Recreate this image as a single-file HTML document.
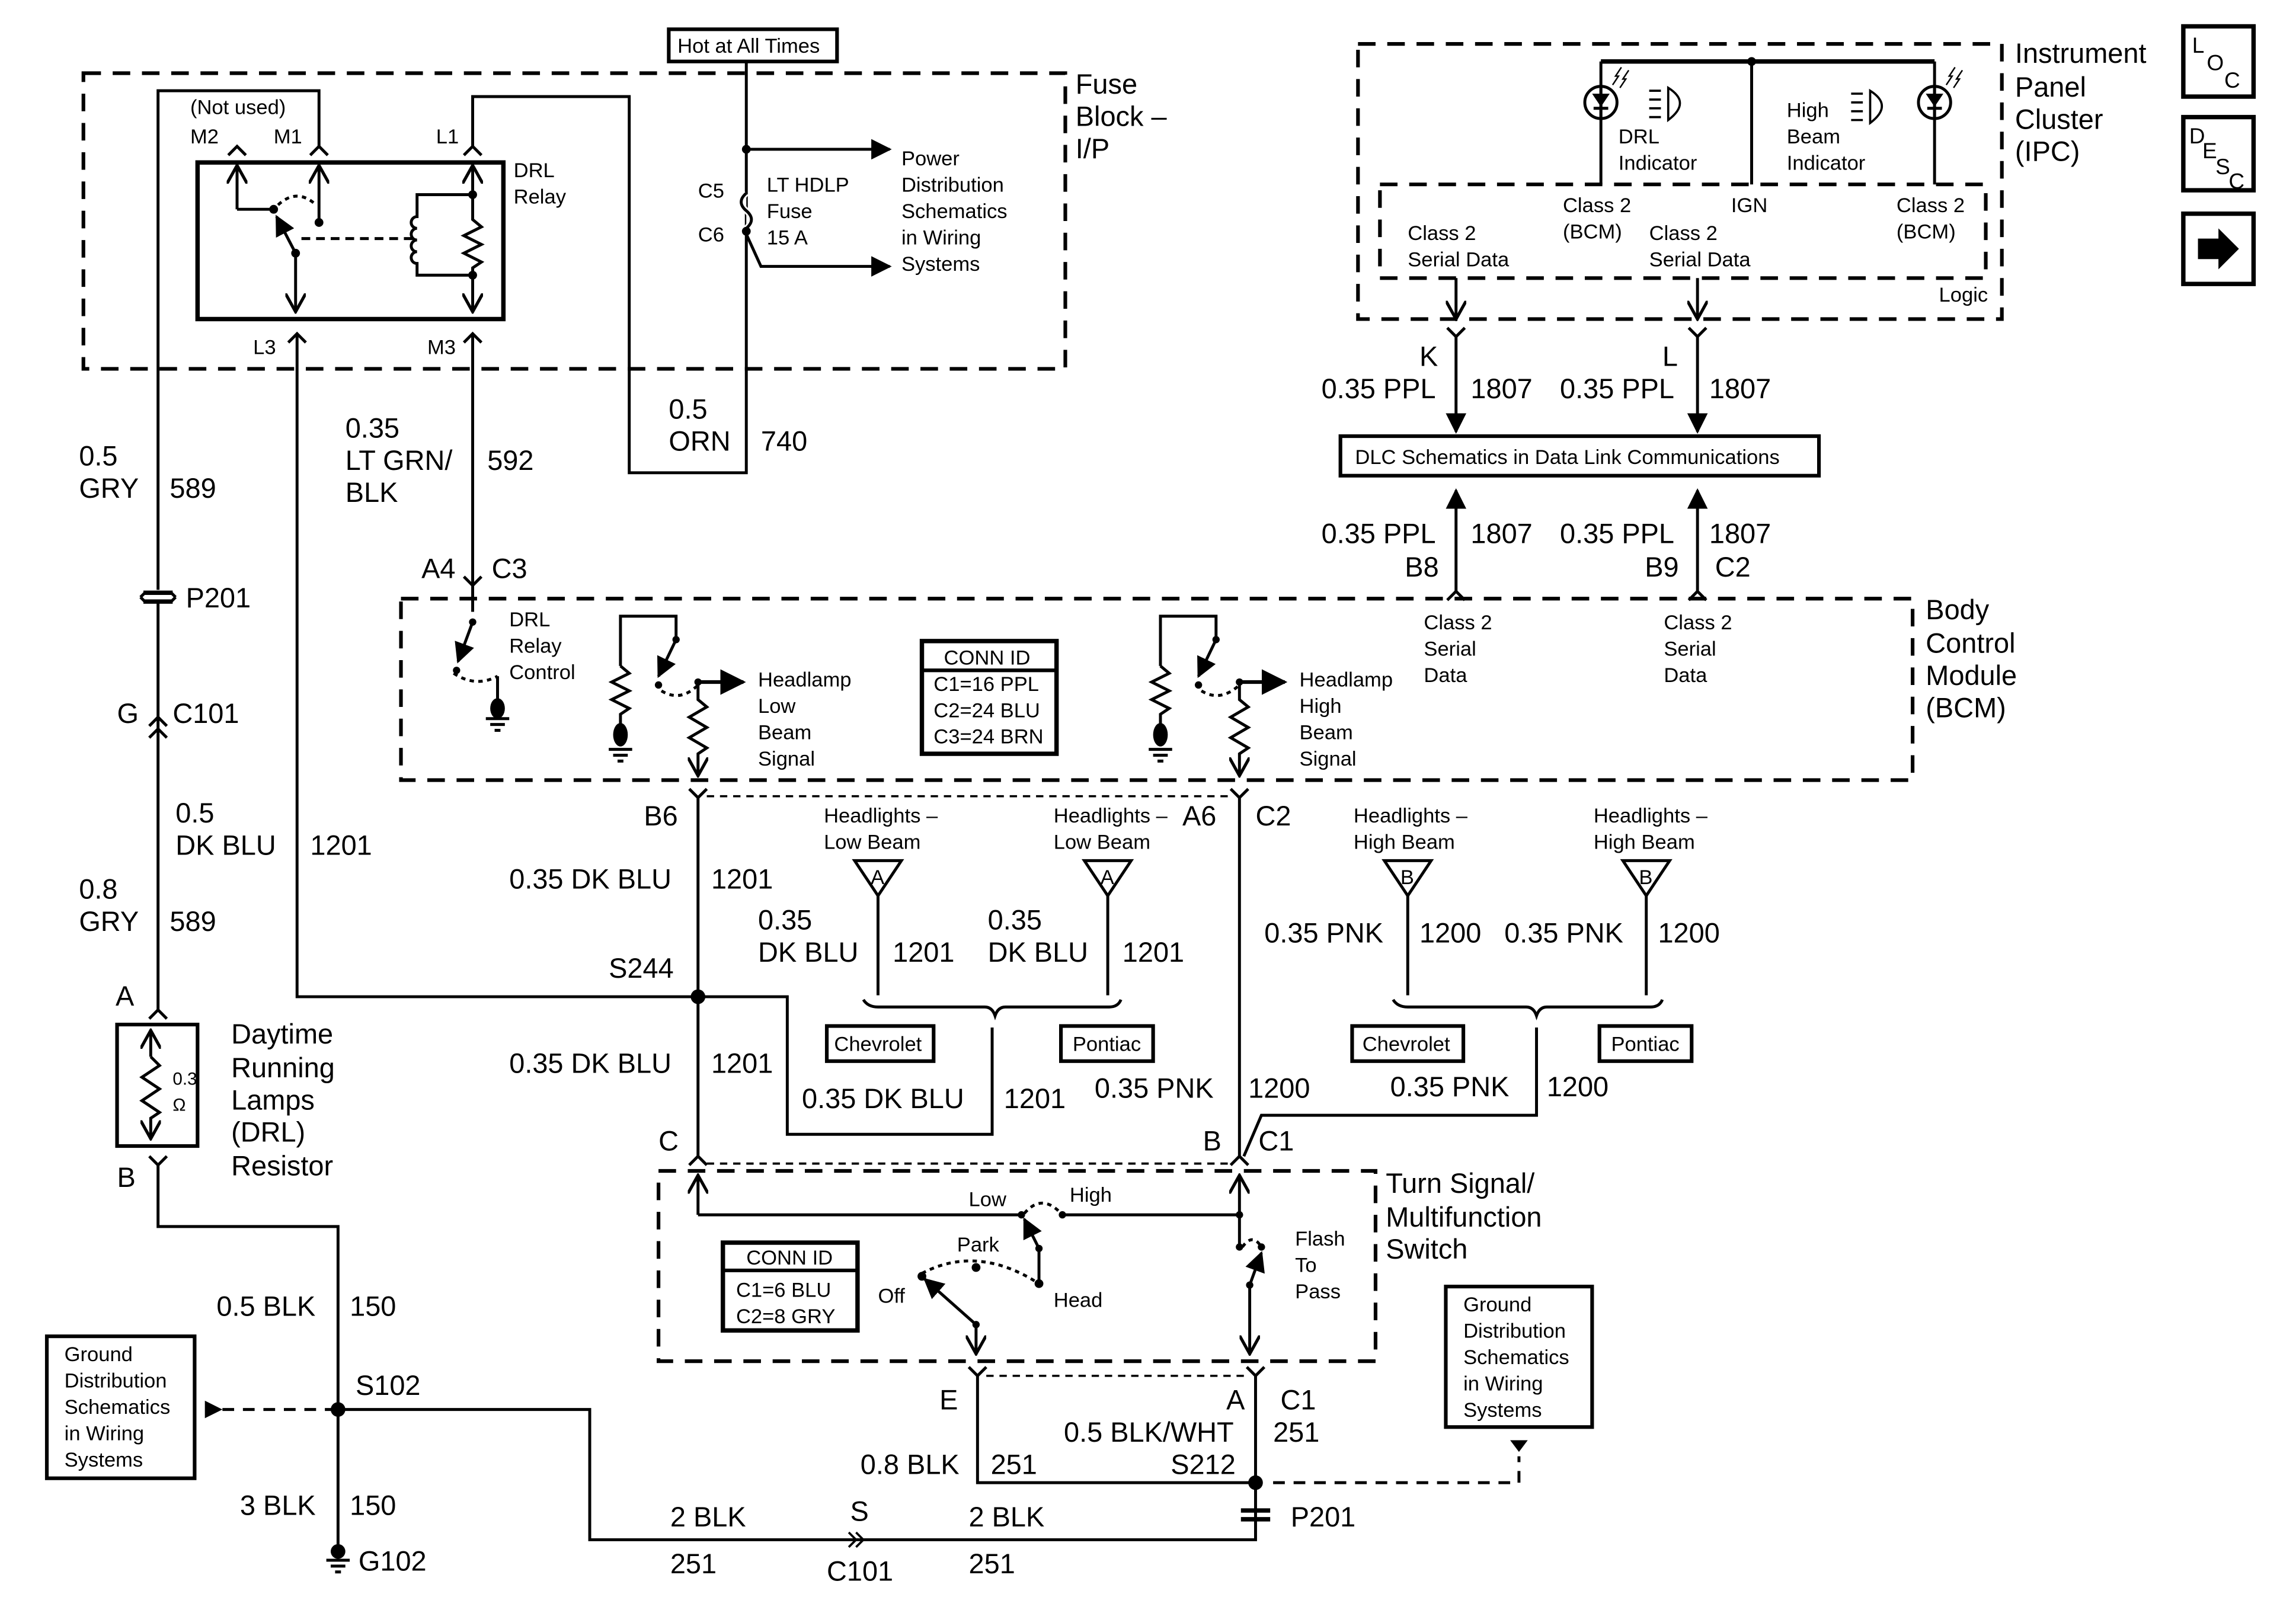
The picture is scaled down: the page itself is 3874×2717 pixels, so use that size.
<!DOCTYPE html>
<html><head><meta charset="utf-8"><style>
html,body{margin:0;padding:0;background:#fff;}
svg{display:block;}
text{font-family:"Liberation Sans",sans-serif;fill:#000;}
.b{font-size:19px;}
.s{font-size:14px;font-family:"Liberation Sans Narrow","Liberation Sans",sans-serif;}
.m{font-size:15px;}
</style></head><body>
<svg width="3874" height="2717" viewBox="0 0 1569 1100" preserveAspectRatio="none" xmlns="http://www.w3.org/2000/svg">
<defs>
<marker id="ah" viewBox="0 0 10 10" refX="9" refY="5" markerWidth="7" markerHeight="7" orient="auto-start-reverse"><path d="M0,0 L10,5 L0,10 z" fill="#000"/></marker>
<marker id="oa" viewBox="0 0 10 10" refX="9" refY="5" markerWidth="7" markerHeight="7" orient="auto-start-reverse"><path d="M0,0 L9,5 L0,10" fill="none" stroke="#000" stroke-width="1.5"/></marker>
</defs>
<rect width="1569" height="1100" fill="#fff"/>
<g fill="none" stroke="#000" stroke-width="2">
<g stroke-dasharray="12,8" stroke-width="2.5">
<rect x="57" y="50" width="671" height="202"/>
<rect x="274" y="409" width="1033" height="124"/>
<rect x="450" y="800" width="490" height="130"/>
<rect x="928" y="30" width="440" height="188"/>
<rect x="943" y="126" width="414" height="64"/>
</g>
<rect x="457" y="20" width="115" height="22" stroke-width="2.5"/>
<rect x="135" y="111" width="209" height="107" stroke-width="3"/>
<path d="M108,403 V62 H218 V100"/>
<path d="M212,106 L218,100 L224,106 M156,106 L162,100 L168,106 M317,106 L323,100 L329,106"/>
<path d="M162,143 V113" marker-end="url(#oa)"/>
<path d="M162,143 H187"/>
<path d="M218,150 V113" marker-end="url(#oa)"/>
<path d="M190,140 Q203,128 216,140" stroke-dasharray="3,3"/>
<path d="M202,173 L189,148" marker-end="url(#ah)"/>
<path d="M202,173 V213" marker-end="url(#oa)"/>
<path d="M206,163 H282" stroke-dasharray="6,4"/>
<path d="M323,130 V113" marker-end="url(#oa)"/>
<path d="M323,190 V213" marker-end="url(#oa)"/>
<path d="M323,130 V150 L329,155 L317,161 L329,167 L317,173 L329,179 L323,183 V190"/>
<path d="M323,133 H285 V148 a4,4 0 0,0 0,8 a4,4 0 0,0 0,8 a4,4 0 0,0 0,8 a4,4 0 0,0 0,8 V188 H323"/>
<path d="M323,100 V66 H430 V323 H510 V42"/>
<path d="M197,234 L203,228 L209,234 M203,228 V681 H477"/>
<path d="M317,234 L323,228 L329,234 M323,228 V400"/>
<path d="M510,132 q-6,6 0,12 q6,6 0,12" fill="#fff" stroke="#fff" stroke-width="4"/>
<path d="M510,132 q-7,6 0,12 q7,6 0,12"/>
<path d="M510,102 H608" marker-end="url(#ah)"/>
<path d="M510,160 L520,182 H608" marker-end="url(#ah)"/>
<path d="M98,405 h20 M98,411 h20" stroke-width="3"/>
<path d="M96,408 l3,-3 m0,6 l-3,-3 M120,408 l-3,-3 m0,6 l3,-3"/>
<path d="M108,411 V490"/>
<path d="M102,496 L108,490 L114,496 M108,490 V498 M102,504 L108,498 L114,504 M108,498 V690"/>
<path d="M102,696 L108,690 L114,696"/>
<rect x="80" y="700" width="55" height="83" stroke-width="2.5"/>
<path d="M103,722 V704" marker-end="url(#oa)"/>
<path d="M103,722 L109,728 L97,736 L109,744 L97,752 L109,760 L103,764 V778" marker-end="url(#oa)"/>
<path d="M102,790 L108,796 L114,790 M108,796 V838 H231 V1060"/>
<path d="M152,963 H231" stroke-dasharray="8,6"/>
<rect x="32" y="913" width="101" height="97" stroke-width="2.5"/>
<path d="M223,1066 h16 M226,1070 h10 M229,1074 h4"/>
<path d="M231,963 H403 V1052 H858 V1013"/>
<path d="M580,1047 l5,5 l-5,5 M585,1047 l5,5 l-5,5" stroke-width="1.5"/>
<path d="M317,394 L323,400 L329,394 M323,400 V418"/>
<path d="M323,425 L313,452" marker-end="url(#ah)"/>
<path d="M310,460 Q325,470 340,462" stroke-dasharray="3,3"/>
<path d="M340,462 V480"/>
<path d="M332,491 h16 M335,495 h10 M338,499 h4"/>
<path d="M424,455 V421 H462 V437"/>
<path d="M462,437 L450,462" marker-end="url(#ah)"/>
<path d="M424,455 L430,460 L418,466 L430,472 L418,478 L430,484 L424,488 V495"/>
<path d="M416,512 h16 M419,516 h10 M422,520 h4"/>
<path d="M452,472 Q465,480 477,468" stroke-dasharray="3,3"/>
<path d="M477,466 H508" marker-end="url(#ah)" stroke-width="2.5"/>
<path d="M477,466 V478 L483,483 L471,490 L483,497 L471,504 L483,511 L477,515 V530" marker-end="url(#oa)"/>
<path d="M793,455 V421 H831 V437"/>
<path d="M831,437 L819,462" marker-end="url(#ah)"/>
<path d="M793,455 L799,460 L787,466 L799,472 L787,478 L799,484 L793,488 V495"/>
<path d="M785,512 h16 M788,516 h10 M791,520 h4"/>
<path d="M821,472 Q834,480 847,468" stroke-dasharray="3,3"/>
<path d="M847,466 H878" marker-end="url(#ah)" stroke-width="2.5"/>
<path d="M847,466 V478 L853,483 L841,490 L853,497 L841,504 L853,511 L847,515 V530" marker-end="url(#oa)"/>
<rect x="630" y="438" width="92" height="77" stroke-width="3"/>
<path d="M630,458 H722" stroke-width="2.5"/>
<path d="M471,539 L477,545 L483,539 M477,545 V790"/>
<path d="M841,539 L847,545 L853,539 M847,545 V790"/>
<path d="M483,544 H841" stroke-dasharray="5,4" stroke-width="1.5"/>
<path d="M584,588 H616 L600,612 Z M741,588 H773 L757,612 Z M946,588 H978 L962,612 Z M1109,588 H1141 L1125,612 Z"/>
<path d="M600,612 V680 M757,612 V680 M962,612 V680 M1125,612 V680"/>
<path d="M590,683 q3,5 10,5 H673 q5,0 7,6 q2,-6 7,-6 H758 q6,0 8,-5"/>
<path d="M952,683 q3,5 10,5 H1043 q5,0 7,6 q2,-6 7,-6 H1128 q6,0 8,-5"/>
<path d="M678,702 V775 H538 V681 H477"/>
<path d="M1050,702 V762 H862 L850,790"/>
<rect x="565" y="701" width="73" height="24" stroke-width="2.5"/>
<rect x="725" y="701" width="63" height="24" stroke-width="2.5"/>
<rect x="924" y="701" width="76" height="24" stroke-width="2.5"/>
<rect x="1093" y="701" width="63" height="24" stroke-width="2.5"/>
<path d="M471,796 L477,790 L483,796 M841,796 L847,790 L853,796"/>
<path d="M483,795 H841" stroke-dasharray="5,4" stroke-width="1.5"/>
<path d="M477,830 V803" marker-end="url(#oa)"/>
<path d="M477,830 H698 M726,830 H847 V852"/>
<path d="M847,830 V803" marker-end="url(#oa)"/>
<path d="M700,829 Q712,815 725,829" stroke-dasharray="3,3"/>
<path d="M849,852 Q856,842 862,852" stroke-dasharray="3,3"/>
<path d="M854,878 L862,856" marker-end="url(#ah)"/>
<path d="M854,878 V925" marker-end="url(#oa)"/>
<path d="M710,877 V853"/>
<path d="M710,853 L700,833" marker-end="url(#ah)"/>
<path d="M630,870 Q668,850 710,877" stroke-dasharray="3,3"/>
<path d="M667,905 L632,874" marker-end="url(#ah)"/>
<path d="M667,905 V925" marker-end="url(#oa)"/>
<rect x="494" y="849" width="92" height="60" stroke-width="3"/>
<path d="M494,868 H586" stroke-width="2.5"/>
<path d="M662,934 L668,940 L674,934 M852,934 L858,940 L864,934"/>
<path d="M674,940 H852" stroke-dasharray="5,4" stroke-width="1.5"/>
<path d="M668,940 V1013 H858 V940"/>
<path d="M848,1032 h20 M848,1038 h20" stroke-width="3"/>
<path d="M870,1013 H1038 V995" stroke-dasharray="8,6"/>
<rect x="988" y="879" width="100" height="96" stroke-width="2.5"/>
<path d="M1094,42 H1322" stroke-width="3"/>
<path d="M1094,42 V126 M1197,42 V126 M1322,42 V126"/>
<circle cx="1094" cy="70" r="11"/><circle cx="1322" cy="70" r="11"/>
<path d="M1089,74 h10 M1317,74 h10"/>
<path d="M1102,58 l4,-6 l-2,0 l4,-6 M1107,60 l4,-6 l-2,0 l4,-6 M1330,58 l4,-6 l-2,0 l4,-6 M1335,60 l4,-6 l-2,0 l4,-6" stroke-width="1"/>
<path d="M1127,62 h8 M1127,68 h8 M1127,74 h8 M1127,80 h8 M1140,60 q16,10 0,22 z M1265,64 h8 M1265,70 h8 M1265,76 h8 M1265,82 h8 M1278,62 q16,10 0,22 z" stroke-width="1.5"/>
<path d="M995,190 V218" marker-end="url(#oa)"/>
<path d="M1160,190 V218" marker-end="url(#oa)"/>
<path d="M989,224 L995,230 L1001,224 M1154,224 L1160,230 L1166,224"/>
<path d="M995,230 V295" marker-end="url(#ah)"/>
<path d="M1160,230 V295" marker-end="url(#ah)"/>
<rect x="916" y="298" width="327" height="27" stroke-width="2.5"/>
<path d="M995,404 V335" marker-end="url(#ah)"/>
<path d="M1160,404 V335" marker-end="url(#ah)"/>
<path d="M989,410 L995,404 L1001,410 M1154,410 L1160,404 L1166,410"/>
<rect x="1492" y="18" width="48" height="48" stroke-width="3"/>
<rect x="1492" y="80" width="48" height="50" stroke-width="3"/>
<rect x="1492" y="146" width="48" height="48" stroke-width="3"/>
</g>
<g fill="#000">
<circle cx="187" cy="143" r="3"/><circle cx="218" cy="152" r="3"/><circle cx="202" cy="173" r="3"/>
<circle cx="323" cy="133" r="3"/><circle cx="323" cy="188" r="3"/>
<circle cx="510" cy="102" r="3"/><circle cx="510" cy="158" r="3"/>
<circle cx="477" cy="681" r="5"/><circle cx="231" cy="963" r="5"/><circle cx="858" cy="1013" r="5"/>
<circle cx="231" cy="1060" r="5"/>
<path d="M152,963 L140,957 L140,969 Z"/>
<path d="M1038,992 L1032,984 L1044,984 Z"/>
<circle cx="323" cy="425" r="2.5"/><circle cx="312" cy="458" r="2.5"/>
<ellipse cx="340" cy="484" rx="5" ry="7"/><ellipse cx="424" cy="502" rx="5" ry="8"/><ellipse cx="793" cy="502" rx="5" ry="8"/>
<circle cx="462" cy="437" r="2.5"/><circle cx="450" cy="468" r="2.5"/><circle cx="477" cy="466" r="2.5"/>
<circle cx="831" cy="437" r="2.5"/><circle cx="819" cy="468" r="2.5"/><circle cx="847" cy="466" r="2.5"/>
<circle cx="698" cy="830" r="2.5"/><circle cx="726" cy="830" r="2.5"/><circle cx="847" cy="830" r="2.5"/>
<circle cx="847" cy="852" r="2.5"/><circle cx="862" cy="852" r="2.5"/><circle cx="854" cy="878" r="2.5"/>
<circle cx="710" cy="877" r="3"/><circle cx="710" cy="853" r="2.5"/><circle cx="667" cy="866" r="3"/>
<circle cx="630" cy="872" r="3"/><circle cx="667" cy="905" r="2.5"/>
<circle cx="1197" cy="42" r="3"/>
<path d="M1088,64 h12 l-6,9 z M1316,64 h12 l-6,9 z"/>
<path d="M1502,163 h14 v-7 l14,14 l-14,14 v-7 h-14 z"/>
</g>
<g stroke="#000" stroke-width="2"><path d="M1094,59 V81 M1322,59 V81"/></g>
<text class="s" x="463" y="36">Hot at All Times</text>
<text class="b" x="735" y="64">Fuse</text><text class="b" x="735" y="86">Block –</text><text class="b" x="735" y="108">I/P</text>
<text class="s" x="130" y="78">(Not used)</text>
<text class="s" x="130" y="98">M2</text><text class="s" x="187" y="98">M1</text><text class="s" x="298" y="98">L1</text>
<text class="s" x="351" y="121">DRL</text><text class="s" x="351" y="139">Relay</text>
<text class="s" x="173" y="242">L3</text><text class="s" x="292" y="242">M3</text>
<text class="s" x="477" y="135">C5</text><text class="s" x="477" y="165">C6</text>
<text class="s" x="524" y="131">LT HDLP</text><text class="s" x="524" y="149">Fuse</text><text class="s" x="524" y="167">15 A</text>
<text class="s" x="616" y="113">Power</text><text class="s" x="616" y="131">Distribution</text><text class="s" x="616" y="149">Schematics</text><text class="s" x="616" y="167">in Wiring</text><text class="s" x="616" y="185">Systems</text>
<text class="b" x="54" y="318">0.5</text><text class="b" x="54" y="340">GRY</text><text class="b" x="116" y="340">589</text>
<text class="b" x="236" y="299">0.35</text><text class="b" x="236" y="321">LT GRN/</text><text class="b" x="236" y="343">BLK</text><text class="b" x="333" y="321">592</text>
<text class="b" x="457" y="286">0.5</text><text class="b" x="457" y="308">ORN</text><text class="b" x="520" y="308">740</text>
<text class="b" x="127" y="415">P201</text>
<text class="b" x="80" y="494">G</text><text class="b" x="118" y="494">C101</text>
<text class="b" x="120" y="562">0.5</text><text class="b" x="120" y="584">DK BLU</text><text class="b" x="212" y="584">1201</text>
<text class="b" x="54" y="614">0.8</text><text class="b" x="54" y="636">GRY</text><text class="b" x="116" y="636">589</text>
<text class="b" x="79" y="687">A</text>
<text style="font-size:12px" x="118" y="741">0.3</text><text style="font-size:12px" x="118" y="759">Ω</text>
<text class="b" x="158" y="713">Daytime</text><text class="b" x="158" y="736">Running</text><text class="b" x="158" y="758">Lamps</text><text class="b" x="158" y="780">(DRL)</text><text class="b" x="158" y="803">Resistor</text>
<text class="b" x="80" y="811">B</text>
<text class="b" x="148" y="899">0.5 BLK</text><text class="b" x="239" y="899">150</text>
<text class="b" x="243" y="953">S102</text>
<text class="s" x="44" y="930">Ground</text><text class="s" x="44" y="948">Distribution</text><text class="s" x="44" y="966">Schematics</text><text class="s" x="44" y="984">in Wiring</text><text class="s" x="44" y="1002">Systems</text>
<text class="b" x="164" y="1035">3 BLK</text><text class="b" x="239" y="1035">150</text>
<text class="b" x="245" y="1073">G102</text>
<text class="b" x="458" y="1043">2 BLK</text><text class="b" x="458" y="1075">251</text>
<text class="b" x="581" y="1039">S</text><text class="b" x="565" y="1080">C101</text>
<text class="b" x="662" y="1043">2 BLK</text><text class="b" x="662" y="1075">251</text>
<text class="b" x="882" y="1043">P201</text>
<text class="b" x="642" y="963">E</text><text class="b" x="838" y="963">A</text><text class="b" x="875" y="963">C1</text>
<text class="b" x="727" y="985">0.5 BLK/WHT</text><text class="b" x="870" y="985">251</text>
<text class="b" x="588" y="1007">0.8 BLK</text><text class="b" x="677" y="1007">251</text><text class="b" x="800" y="1007">S212</text>
<text class="s" x="1000" y="896">Ground</text><text class="s" x="1000" y="914">Distribution</text><text class="s" x="1000" y="932">Schematics</text><text class="s" x="1000" y="950">in Wiring</text><text class="s" x="1000" y="968">Systems</text>
<text class="b" x="947" y="815">Turn Signal/</text><text class="b" x="947" y="838">Multifunction</text><text class="b" x="947" y="860">Switch</text>
<text class="s" x="662" y="824">Low</text><text class="s" x="731" y="821">High</text>
<text class="s" x="654" y="855">Park</text><text class="s" x="600" y="890">Off</text><text class="s" x="720" y="893">Head</text>
<text class="s" x="885" y="851">Flash</text><text class="s" x="885" y="869">To</text><text class="s" x="885" y="887">Pass</text>
<text class="s" x="510" y="864">CONN ID</text><text class="s" x="503" y="886">C1=6 BLU</text><text class="s" x="503" y="904">C2=8 GRY</text>
<text class="b" x="450" y="786">C</text><text class="b" x="822" y="786">B</text><text class="b" x="860" y="786">C1</text>
<text class="b" x="1316" y="423">Body</text><text class="b" x="1316" y="446">Control</text><text class="b" x="1316" y="468">Module</text><text class="b" x="1316" y="490">(BCM)</text>
<text class="b" x="288" y="395">A4</text><text class="b" x="336" y="395">C3</text>
<text class="s" x="348" y="428">DRL</text><text class="s" x="348" y="446">Relay</text><text class="s" x="348" y="464">Control</text>
<text class="s" x="518" y="469">Headlamp</text><text class="s" x="518" y="487">Low</text><text class="s" x="518" y="505">Beam</text><text class="s" x="518" y="523">Signal</text>
<text class="s" x="888" y="469">Headlamp</text><text class="s" x="888" y="487">High</text><text class="s" x="888" y="505">Beam</text><text class="s" x="888" y="523">Signal</text>
<text class="s" x="645" y="454">CONN ID</text><text class="s" x="638" y="472">C1=16 PPL</text><text class="s" x="638" y="490">C2=24 BLU</text><text class="s" x="638" y="508">C3=24 BRN</text>
<text class="s" x="973" y="430">Class 2</text><text class="s" x="973" y="448">Serial</text><text class="s" x="973" y="466">Data</text>
<text class="s" x="1137" y="430">Class 2</text><text class="s" x="1137" y="448">Serial</text><text class="s" x="1137" y="466">Data</text>
<text class="b" x="440" y="564">B6</text><text class="b" x="808" y="564">A6</text><text class="b" x="858" y="564">C2</text>
<text class="s" x="563" y="562">Headlights –</text><text class="s" x="563" y="580">Low Beam</text>
<text class="s" x="720" y="562">Headlights –</text><text class="s" x="720" y="580">Low Beam</text>
<text class="s" x="925" y="562">Headlights –</text><text class="s" x="925" y="580">High Beam</text>
<text class="s" x="1089" y="562">Headlights –</text><text class="s" x="1089" y="580">High Beam</text>
<text class="s" x="595" y="604">A</text><text class="s" x="752" y="604">A</text><text class="s" x="957" y="604">B</text><text class="s" x="1120" y="604">B</text>
<text class="b" x="348" y="607">0.35 DK BLU</text><text class="b" x="486" y="607">1201</text>
<text class="b" x="518" y="635">0.35</text><text class="b" x="518" y="657">DK BLU</text><text class="b" x="610" y="657">1201</text>
<text class="b" x="675" y="635">0.35</text><text class="b" x="675" y="657">DK BLU</text><text class="b" x="767" y="657">1201</text>
<text class="b" x="864" y="644">0.35 PNK</text><text class="b" x="970" y="644">1200</text>
<text class="b" x="1028" y="644">0.35 PNK</text><text class="b" x="1133" y="644">1200</text>
<text class="b" x="416" y="668">S244</text>
<text class="s" x="570" y="718">Chevrolet</text><text class="s" x="733" y="718">Pontiac</text><text class="s" x="931" y="718">Chevrolet</text><text class="s" x="1101" y="718">Pontiac</text>
<text class="b" x="348" y="733">0.35 DK BLU</text><text class="b" x="486" y="733">1201</text>
<text class="b" x="548" y="757">0.35 DK BLU</text><text class="b" x="686" y="757">1201</text>
<text class="b" x="748" y="750">0.35 PNK</text><text class="b" x="853" y="750">1200</text>
<text class="b" x="950" y="749">0.35 PNK</text><text class="b" x="1057" y="749">1200</text>
<text class="b" x="1377" y="43">Instrument</text><text class="b" x="1377" y="66">Panel</text><text class="b" x="1377" y="88">Cluster</text><text class="b" x="1377" y="110">(IPC)</text>
<text class="s" x="1106" y="98">DRL</text><text class="s" x="1106" y="116">Indicator</text>
<text class="s" x="1221" y="80">High</text><text class="s" x="1221" y="98">Beam</text><text class="s" x="1221" y="116">Indicator</text>
<text class="s" x="1068" y="145">Class 2</text><text class="s" x="1068" y="163">(BCM)</text>
<text class="s" x="1183" y="145">IGN</text>
<text class="s" x="1296" y="145">Class 2</text><text class="s" x="1296" y="163">(BCM)</text>
<text class="s" x="962" y="164">Class 2</text><text class="s" x="962" y="182">Serial Data</text>
<text class="s" x="1127" y="164">Class 2</text><text class="s" x="1127" y="182">Serial Data</text>
<text class="s" x="1325" y="206">Logic</text>
<text class="b" x="970" y="250">K</text><text class="b" x="1136" y="250">L</text>
<text class="b" x="903" y="272">0.35 PPL</text><text class="b" x="1005" y="272">1807</text>
<text class="b" x="1066" y="272">0.35 PPL</text><text class="b" x="1168" y="272">1807</text>
<text class="s" x="926" y="317">DLC Schematics in Data Link Communications</text>
<text class="b" x="903" y="371">0.35 PPL</text><text class="b" x="1005" y="371">1807</text>
<text class="b" x="1066" y="371">0.35 PPL</text><text class="b" x="1168" y="371">1807</text>
<text class="b" x="960" y="394">B8</text><text class="b" x="1124" y="394">B9</text><text class="b" x="1172" y="394">C2</text>
<text class="m" x="1498" y="36">L</text><text class="m" x="1508" y="48">O</text><text class="m" x="1520" y="60">C</text>
<text class="m" x="1496" y="98">D</text><text class="m" x="1505" y="108">E</text><text class="m" x="1514" y="119">S</text><text class="m" x="1523" y="129">C</text>
</svg>
</body></html>
